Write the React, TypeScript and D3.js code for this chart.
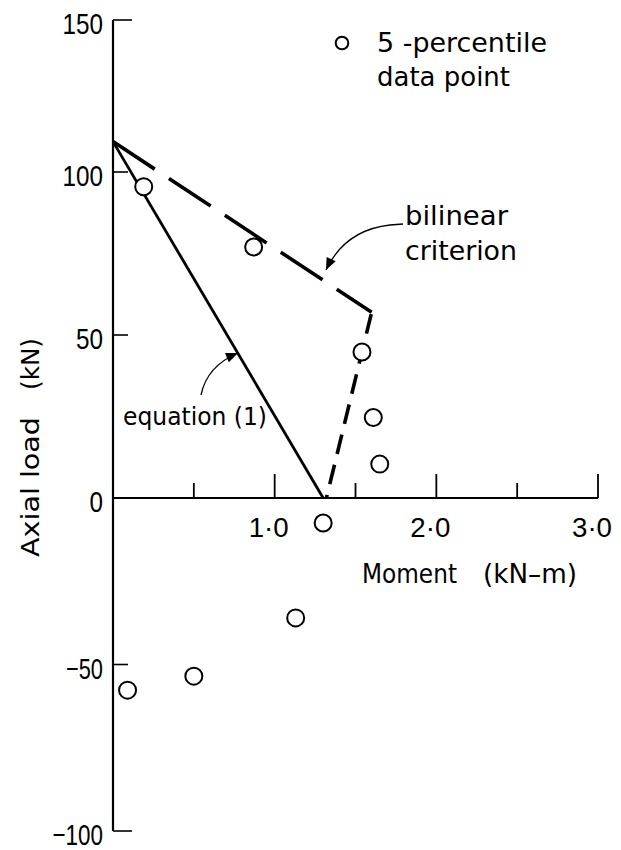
import React from "react";
import * as d3 from "d3";

const pointsM = [0.19, 0.87, 1.54, 1.61, 1.65, 1.30, 1.13, 0.50, 0.09];
const pointsP = [95.5, 77, 44.8, 24.7, 10.4, -7.5, -36, -53.5, -57.7];

const eqM = [0, 1.3];
const eqP = [110, 0];

const biUpperM = [0, 1.6];
const biUpperP = [110, 57];
const biLowerM = [1.6, 1.32];
const biLowerP = [57, 0];

const yTicks = [150, 100, 50, 0, -50, -100];
const yTickLabels = ["150", "100", "50", "0", "\u221250", "\u2212100"];
const xTicks = [0.5, 1, 1.5, 2, 2.5, 3];
const xMajor = [false, true, false, true, false, true];
const xLabelVals = [1, 2, 3];
const xLabels = ["1\u00b70", "2\u00b70", "3\u00b70"];

const W = 621;
const H = 850;

const x = d3.scaleLinear().domain([0, 3]).range([113, 598]);
const y = d3.scaleLinear().domain([-100, 0, 100, 150]).range([831, 498, 172, 20]);

const WORD = "'DejaVu Sans', sans-serif";
const NUM = "'Liberation Sans Narrow', 'Liberation Sans', sans-serif";

function labelWidth(s: string) {
  let w = 0;
  for (const c of s) w += c === "\u2212" ? 10 : 13.5;
  return w;
}

function arrowHead(cx: number, cy: number, ex: number, ey: number, len = 12, wid = 5) {
  const a = Math.atan2(ey - cy, ex - cx);
  const bx = ex - len * Math.cos(a);
  const by = ey - len * Math.sin(a);
  const px = -Math.sin(a) * wid;
  const py = Math.cos(a) * wid;
  return `M${ex},${ey} L${bx + px},${by + py} L${bx - px},${by - py} Z`;
}

export default function App() {
  const mk = (ms: number[], ps: number[]) =>
    d3.line<[number, number]>().x((d) => x(d[0])).y((d) => y(d[1]))(ms.map((m, i) => [m, ps[i]]))!;

  const eqPath = mk(eqM, eqP);
  const upPath = mk(biUpperM, biUpperP);
  const lowPath = mk(biLowerM, biLowerP);

  return (
    <svg width={W} height={H} viewBox={`0 0 ${W} ${H}`} style={{ display: "block", position: "absolute", left: 0, top: 0, background: "#fff" }}>
      <rect width={W} height={H} fill="#fff" />
      {/* axes */}
      <line x1={x(0)} x2={x(0)} y1={y(150)} y2={y(-100)} stroke="#000" strokeWidth={2.2} />
      <line x1={x(0)} x2={x(3)} y1={y(0)} y2={y(0)} stroke="#000" strokeWidth={2.2} />
      {yTicks.map((t, i) => (
        <g key={"yt" + t}>
          {t !== 0 && (
            <line
              x1={x(0)}
              x2={x(0) + (t === 150 || t === -100 ? 19 : 15)}
              y1={y(t)}
              y2={y(t)}
              stroke="#000"
              strokeWidth={1.6}
            />
          )}
          <text
            x={103}
            y={y(t) + 14}
            textAnchor="end"
            fontFamily={NUM}
            fontSize={30}
            fill="#000"
            textLength={labelWidth(yTickLabels[i])}
            lengthAdjust="spacingAndGlyphs"
          >
            {yTickLabels[i]}
          </text>
        </g>
      ))}
      {xTicks.map((t, i) => (
        <line
          key={"xt" + t}
          x1={x(t)}
          x2={x(t)}
          y1={y(0)}
          y2={y(0) - (xMajor[i] ? 24 : 15)}
          stroke="#000"
          strokeWidth={1.8}
        />
      ))}
      {xLabelVals.map((v, i) => (
        <text
          key={"xl" + v}
          x={x(v) - 6}
          y={537}
          textAnchor="middle"
          fontFamily={NUM}
          fontSize={28}
          fill="#000"
          textLength={40}
          lengthAdjust="spacingAndGlyphs"
        >
          {xLabels[i]}
        </text>
      ))}

      {/* axis titles */}
      <text x={362} y={583} fontFamily={WORD} fontSize={27} fill="#000" textLength={95} lengthAdjust="spacingAndGlyphs">
        Moment
      </text>
      <text x={483} y={583} fontFamily={WORD} fontSize={27} fill="#000" textLength={94} lengthAdjust="spacingAndGlyphs">
        (kN–m)
      </text>
      <g transform="translate(39,557) rotate(-90)">
        <text x={0} y={0} fontFamily={WORD} fontSize={25} fill="#000" textLength={140} lengthAdjust="spacingAndGlyphs">
          Axial load
        </text>
        <text x={167} y={0} fontFamily={WORD} fontSize={25} fill="#000" textLength={52} lengthAdjust="spacingAndGlyphs">
          (kN)
        </text>
      </g>

      {/* criterion lines */}
      <path d={eqPath} fill="none" stroke="#000" strokeWidth={2.8} />
      <path d={upPath} fill="none" stroke="#000" strokeWidth={3.6} strokeDasharray="50 17" />
      <path d={lowPath} fill="none" stroke="#000" strokeWidth={3.6} strokeDasharray="20 11" strokeDashoffset={-2} />

      {/* data points */}
      {pointsM.map((m, i) => (
        <circle key={"p" + i} cx={x(m)} cy={y(pointsP[i])} r={8.5} fill="#fff" stroke="#000" strokeWidth={2} />
      ))}

      {/* legend */}
      <circle cx={342} cy={43} r={6.3} fill="#fff" stroke="#000" strokeWidth={2} />
      <text x={377} y={52} fontFamily={WORD} fontSize={27} fill="#000" textLength={170} lengthAdjust="spacingAndGlyphs">
        5 -percentile
      </text>
      <text x={377} y={86} fontFamily={WORD} fontSize={27} fill="#000" textLength={133} lengthAdjust="spacingAndGlyphs">
        data point
      </text>

      {/* annotations */}
      <text x={405} y={225} fontFamily={WORD} fontSize={27} fill="#000" textLength={103} lengthAdjust="spacingAndGlyphs">
        bilinear
      </text>
      <text x={405} y={260} fontFamily={WORD} fontSize={27} fill="#000" textLength={112} lengthAdjust="spacingAndGlyphs">
        criterion
      </text>
      <path d="M403,224 L390,225 Q345,230 326,270" fill="none" stroke="#000" strokeWidth={1.3} />
      <path d={arrowHead(345, 230, 326, 270)} fill="#000" />

      <text x={123} y={425} fontFamily={WORD} fontSize={25} fill="#000" textLength={144} lengthAdjust="spacingAndGlyphs">
        equation (1)
      </text>
      <path d="M201,395 Q207,366 238,353" fill="none" stroke="#000" strokeWidth={1.3} />
      <path d={arrowHead(207, 366, 238, 353)} fill="#000" />
    </svg>
  );
}
